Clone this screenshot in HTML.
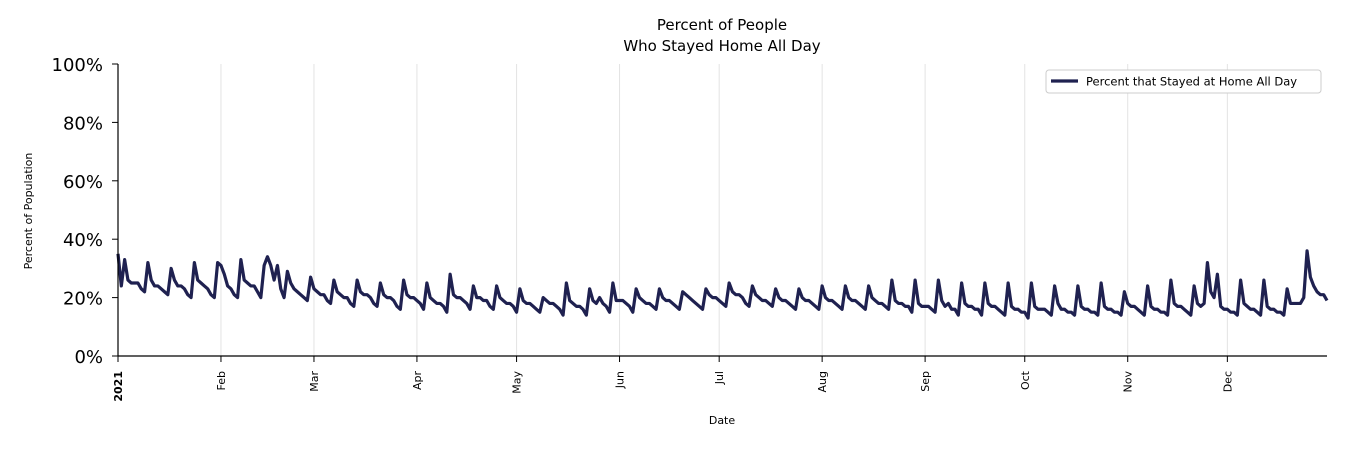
<!DOCTYPE html>
<html><head><meta charset="utf-8"><style>
body{margin:0;background:#fff;}
svg text{font-family:"DejaVu Sans","Liberation Sans",sans-serif;}
</style></head><body>
<svg width="1350" height="450" xmlns="http://www.w3.org/2000/svg">
<text x="722" y="30" text-anchor="middle" font-size="15">Percent of People</text>
<text x="722" y="51" text-anchor="middle" font-size="15">Who Stayed Home All Day</text>
<g id="grid"></g>
<g id="yaxis"></g>
<g id="xaxis"></g>
<path id="line" fill="none" stroke="#1f2150" stroke-width="3.2" stroke-linejoin="round"/>
<line x1="118" y1="64" x2="118" y2="356" stroke="#000" stroke-width="1.2"/>
<line x1="118" y1="356" x2="1327" y2="356" stroke="#000" stroke-width="1.2"/>
<text x="722" y="424" text-anchor="middle" font-size="11">Date</text>
<text transform="translate(32,211) rotate(-90)" text-anchor="middle" font-size="11">Percent of Population</text>
<g>
<rect x="1046" y="70" width="275" height="23" rx="3" fill="#fff" stroke="#ccc"/>
<line x1="1051" y1="81" x2="1078" y2="81" stroke="#1f2150" stroke-width="3.2"/>
<text x="1086" y="85.5" font-size="11.5">Percent that Stayed at Home All Day</text>
</g>
</svg>
<script>
const yTicks=[0,20,40,60,80,100];
const monthLabels=["2021","Feb","Mar","Apr","May","Jun","Jul","Aug","Sep","Oct","Nov","Dec"];
const monthStarts=[0,31,59,90,120,151,181,212,243,273,304,334];
const values=[35,24,
33,26,25,25,25,23,22, 32,26,24,24,23,22,21, 30,26,24,24,23,21,20, 32,26,25,24,23,21,20,
32,31,28,24,23,21,20, 33,26,25,24,24,22,20, 31,34,31,26,31,23,20, 29,25,23,22,21,20,19,
27,23,22,21,21,19,18, 26,22,21,20,20,18,17, 26,22,21,21,20,18,17, 25,21,20,20,19,17,16,
26,21,20,20,19,18,16, 25,20,19,18,18,17,15, 28,21,20,20,19,18,16, 24,20,20,19,19,17,16,
24,20,19,18,18,17,15, 23,19,18,18,17,16,15, 20,19,18,18,17,16,14, 25,19,18,17,17,16,14,
23,19,18,20,18,17,15, 25,19,19,19,18,17,15, 23,20,19,18,18,17,16, 23,20,19,19,18,17,16,
22,21,20,19,18,17,16, 23,21,20,20,19,18,17, 25,22,21,21,20,18,17, 24,21,20,19,19,18,17,
23,20,19,19,18,17,16, 23,20,19,19,18,17,16, 24,20,19,19,18,17,16, 24,20,19,19,18,17,16,
24,20,19,18,18,17,16, 26,19,18,18,17,17,15, 26,18,17,17,17,16,15, 26,19,17,18,16,16,14,
25,18,17,17,16,16,14, 25,18,17,17,16,15,14, 25,17,16,16,15,15,13, 25,17,16,16,16,15,14,
24,18,16,16,15,15,14, 24,17,16,16,15,15,14, 25,17,16,16,15,15,14, 22,18,17,17,16,15,14,
24,17,16,16,15,15,14, 26,18,17,17,16,15,14, 24,18,17,18,32,22,20, 28,17,16,16,15,15,14,
26,18,17,16,16,15,14, 26,17,16,16,15,15,14, 23,18,18,18,18,20,36,
27,24,22,21,21,19];
const NS="http://www.w3.org/2000/svg";
const X0=118,X1=1327,Y0=356,Y1=64;
const x=d=>X0+d*(X1-X0)/(values.length-1);
const y=v=>Y0-v*(Y0-Y1)/100;
const grid=document.getElementById('grid'),ya=document.getElementById('yaxis'),xa=document.getElementById('xaxis');
yTicks.forEach(t=>{
  const l=document.createElementNS(NS,'line');
  l.setAttribute('x1',112);l.setAttribute('x2',118);l.setAttribute('y1',y(t));l.setAttribute('y2',y(t));l.setAttribute('stroke','#000');
  
  
  ya.appendChild(l);
  const tx=document.createElementNS(NS,'text');
  tx.setAttribute('x',103);tx.setAttribute('y',y(t)+7);tx.setAttribute('text-anchor','end');tx.setAttribute('font-size','18');
  tx.textContent=t+'%';
  
  
  ya.appendChild(tx);
});
monthStarts.forEach((d,i)=>{
  const xp=x(d);
  if(i>0){
    const g=document.createElementNS(NS,'line');
    g.setAttribute('x1',xp);g.setAttribute('x2',xp);g.setAttribute('y1',Y1);g.setAttribute('y2',Y0);g.setAttribute('stroke','#e3e3e3');
    
    
    grid.appendChild(g);
  }
  const tk=document.createElementNS(NS,'line');
  tk.setAttribute('x1',xp);tk.setAttribute('x2',xp);tk.setAttribute('y1',356);tk.setAttribute('y2',362);tk.setAttribute('stroke','#000');
  
  
  xa.appendChild(tk);
  const tx=document.createElementNS(NS,'text');
  tx.setAttribute('transform','translate('+(xp+4)+',371) rotate(-90)');
  tx.setAttribute('text-anchor','end');tx.setAttribute('font-size','11');
  if(i===0)tx.setAttribute('font-weight','bold');
  tx.textContent=monthLabels[i];
  
  
  xa.appendChild(tx);
});
document.getElementById('line').setAttribute('d',values.map((v,i)=>(i?'L':'M')+x(i).toFixed(2)+','+y(v).toFixed(2)).join(''));
</script>
</body></html>
